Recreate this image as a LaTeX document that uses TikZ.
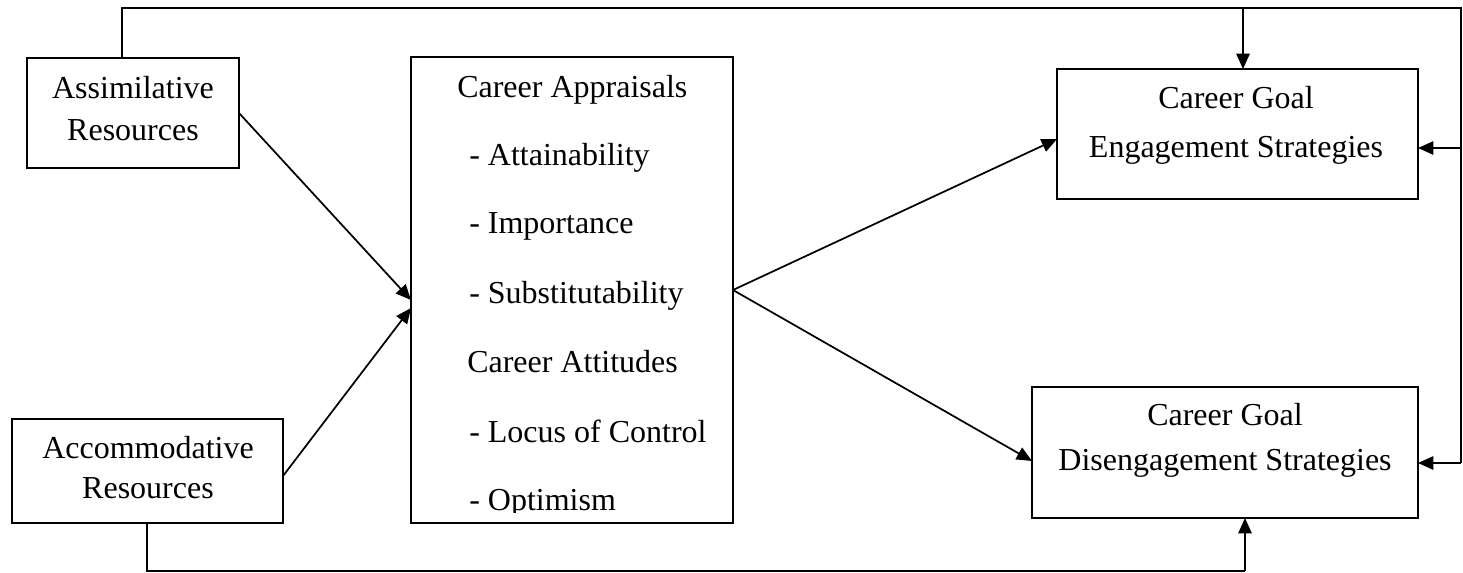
\documentclass[tikz,border=0pt]{standalone}
\usepackage{fontspec}
\setmainfont{Liberation Serif}
\usetikzlibrary{arrows.meta,fit}
\begin{document}
\begin{tikzpicture}[x=0.75pt,y=-0.75pt,
  box/.style={draw,line width=1.3pt,inner sep=0pt,outer sep=0pt},
  txt/.style={font=\fontsize{24}{29}\selectfont,inner sep=0pt,anchor=base},
  ltxt/.style={txt,anchor=base west},
  wire/.style={line width=1.3pt},
  arr/.style={line width=1.3pt,-{Triangle[length=11.5pt,width=10pt]}}]
\useasboundingbox (0,0) rectangle (1463,572);

% boxes
\node[box,fit={(27,58)(239,168)}] (assim) {};
\node[box,fit={(12,419)(283,523)}] (accom) {};
\node[box,fit={(411,57)(733,523)}] (mid) {};
\node[box,fit={(1057,69)(1418,199)}] (eng) {};
\node[box,fit={(1032,387)(1418,518)}] (dis) {};

% box texts
\node[txt] (assimA) at (133,98) {Assimilative};
\node[txt] (assimB) at (133,140) {Resources};
\node[txt] (accomA) at (148,458) {Accommodative};
\node[txt] (accomB) at (148,498) {Resources};
\node[txt] (engA) at (1236,108) {Career Goal};
\node[txt] (engB) at (1236,157) {Engagement Strategies};
\node[txt] (disA) at (1225,425) {Career Goal};
\node[txt] (disB) at (1225,470) {Disengagement Strategies};

\node[ltxt] (m1) at (457,97) {Career Appraisals};
\node[ltxt] (m2) at (469,165) {- Attainability};
\node[ltxt] (m3) at (469,233) {- Importance};
\node[ltxt] (m4) at (469,303) {- Substitutability};
\node[ltxt] (m5) at (467,372) {Career Attitudes};
\node[ltxt] (m6) at (469,442) {- Locus of Control};
\begin{scope}
  \clip (412,400) rectangle (732,512);
  \node[ltxt] (m7) at (469,510) {- Optimism};
\end{scope}

% routing points
\coordinate (tl) at (122,8);
\coordinate (tr) at (1461,8);
\coordinate (tdown) at (1243,8);
\coordinate (bl) at (147,571);
\coordinate (bup) at (1245,571);

% resources into appraisals
\draw[arr] (assim.east) -- (mid.west |- 0,300);
\draw[arr] (accom.east |- 0,476) -- (mid.west |- 0,308);

% appraisals into strategies
\draw[arr] (mid.east) -- (eng.west |- 0,139);
\draw[arr] (mid.east) -- (dis.west |- 0,461);

% assimilative feedback loop
\draw[wire] (tl |- assim.north) -- (tl) -- (tr) -- (tr |- 0,463);
\draw[arr] (tdown) -- (tdown |- eng.north);
\draw[arr] (tr |- 0,148) -- (eng.east |- 0,148);
\draw[arr] (tr |- 0,463) -- (dis.east |- 0,463);

% accommodative loop
\draw[wire] (bl |- accom.south) -- (bl) -- (bup);
\draw[arr] (bup) -- (bup |- dis.south);
\end{tikzpicture}
\end{document}
